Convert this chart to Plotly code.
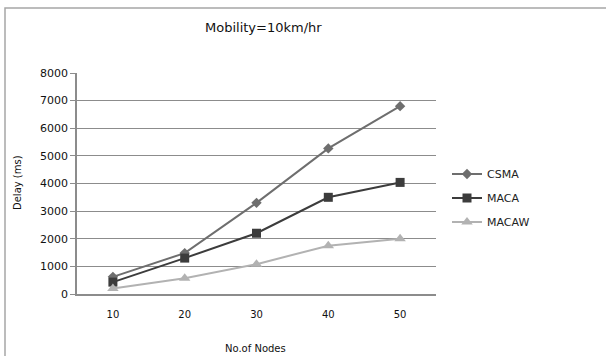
import plotly.graph_objects as go

nodes = ["10", "20", "30", "40", "50"]
csma = [620, 1480, 3300, 5270, 6800]
maca = [430, 1300, 2200, 3500, 4040]
macaw = [200, 570, 1080, 1750, 2000]
y_ticks = [0, 1000, 2000, 3000, 4000, 5000, 6000, 7000, 8000]

FONT = "DejaVu Sans"
L, R, T, B = 77, 170, 73, 62
W, H = 606, 356
PW, PH = W - L - R, H - T - B

def px_x(p):
    return (p - L) / PW

def px_y(p):
    return (H - B - p) / PH

fig = go.Figure()
series = [
    ("CSMA", csma, "#6e6e6e", "diamond", 8),
    ("MACA", maca, "#3c3c3c", "square", 9),
    ("MACAW", macaw, "#b2b2b2", "triangle-up", 10),
]
for name, vals, col, sym, sz in series:
    fig.add_trace(go.Scatter(
        x=nodes, y=vals, name=name, mode="lines+markers",
        line=dict(color=col, width=2),
        marker=dict(symbol=sym, size=sz, color=col),
        legendgroup=name,
    ))

fig.update_layout(
    width=W, height=H,
    margin=dict(l=L, r=R, t=T, b=B, autoexpand=False),
    paper_bgcolor="white", plot_bgcolor="white",
    showlegend=True,
    legend=dict(x=px_x(447), y=px_y(198), xanchor="left", yanchor="middle",
                font=dict(family=FONT, size=11, color="#222222"),
                tracegroupgap=5, traceorder="grouped", itemwidth=30,
                bgcolor="rgba(0,0,0,0)"),
    font=dict(family=FONT, color="#111111"),
)
fig.update_xaxes(
    type="category", range=[-0.5, 4.5], automargin=False,
    showgrid=False, showline=True, linecolor="#8c8c8c", linewidth=1.5,
    ticks="outside", ticklen=10, tickcolor="rgba(0,0,0,0)",
    tickfont=dict(family=FONT, size=10, color="#111111"),
)
fig.update_yaxes(
    range=[0, 8000], tickvals=y_ticks, automargin=False,
    showgrid=True, gridcolor="#8c8c8c", gridwidth=1.2,
    showline=True, linecolor="#8c8c8c", linewidth=1.5,
    ticks="outside", ticklen=5, tickcolor="#8c8c8c",
    tickfont=dict(family=FONT, size=11, color="#111111"),
    zeroline=False,
)
fig.add_annotation(text="Mobility=10km/hr", xref="paper", yref="paper",
                   x=px_x(263), y=px_y(27), xanchor="center", yanchor="middle",
                   showarrow=False, font=dict(family=FONT, size=13, color="#111111"))
fig.add_annotation(text="No.of Nodes", xref="paper", yref="paper",
                   x=px_x(255), y=px_y(348), xanchor="center", yanchor="middle",
                   showarrow=False, font=dict(family=FONT, size=10, color="#111111"))
fig.add_annotation(text="Delay (ms)", xref="paper", yref="paper", textangle=-90,
                   x=px_x(17), y=px_y(183), xanchor="center", yanchor="middle",
                   showarrow=False, font=dict(family=FONT, size=10, color="#111111"))
fig.add_shape(type="rect", xref="paper", yref="paper",
              x0=px_x(5), x1=px_x(620), y0=px_y(370), y1=px_y(8),
              line=dict(color="#a6a6a6", width=1.5), layer="below")

fig.write_html("out.html")
